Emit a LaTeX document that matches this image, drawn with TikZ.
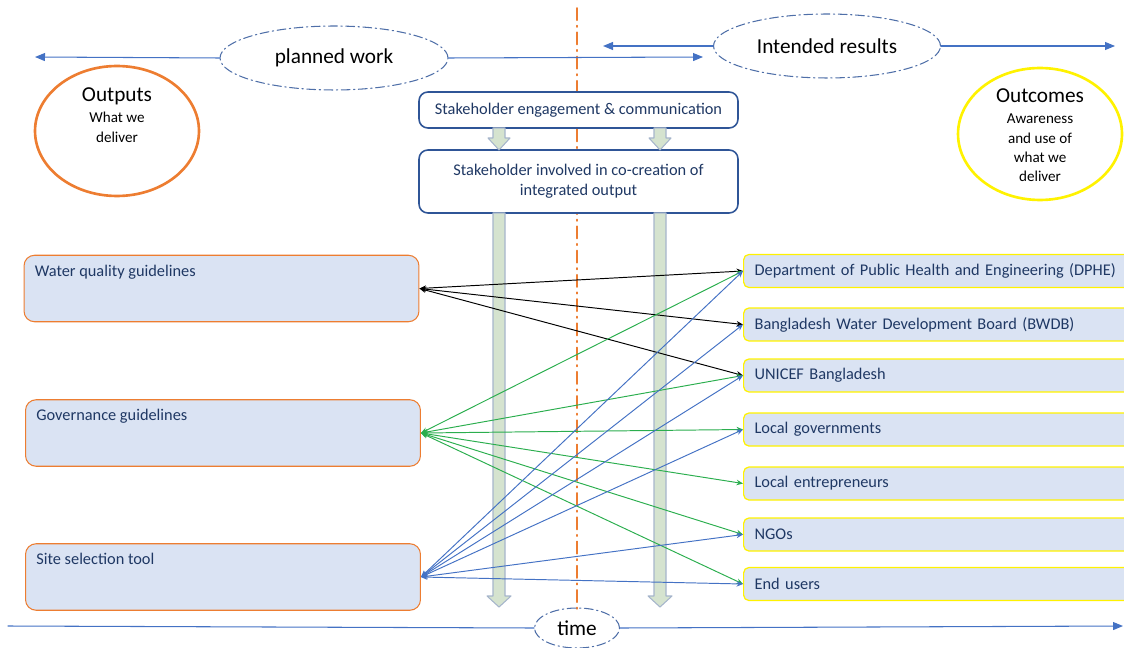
\documentclass[tikz,border=0pt]{standalone}
\usepackage{fontspec}
\setmainfont{Carlito}
\usetikzlibrary{arrows.meta, shapes.geometric, calc}
\definecolor{lineblue}{HTML}{4472C4}
\definecolor{phaseblue}{HTML}{4F6FA8}
\definecolor{navy}{HTML}{1F3864}
\definecolor{stakeblue}{HTML}{2F5597}
\definecolor{outorange}{HTML}{ED7D31}
\definecolor{boxfill}{HTML}{DAE3F3}
\definecolor{linkgreen}{HTML}{2BAE4E}
\definecolor{flowfill}{HTML}{D5E3CF}
\definecolor{flowedge}{HTML}{A6B5CB}
\definecolor{outyellow}{HTML}{FFF200}

\begin{document}
\begin{tikzpicture}[x=0.02cm, y=-0.02cm, line cap=round, line join=round,
	font=\fontsize{9.3}{11}\selectfont,
	phase/.style={ellipse, draw=phaseblue, line width=0.6pt,
		dash pattern=on 5pt off 2pt on 0.8pt off 2pt,
		font=\fontsize{12.1}{14}\selectfont},
	output/.style={draw=outorange, fill=boxfill, line width=0.6pt, rounded corners=6pt,
		minimum width=7.9cm, minimum height=1.33cm},
	outtext/.style={anchor=north west, text=navy, inner sep=0pt, xshift=0.22cm, yshift=-0.2cm},
	outcome/.style={anchor=west, draw=outyellow, fill=boxfill, line width=0.7pt,
		rounded corners=3pt, minimum width=8cm, minimum height=0.66cm,
		text width=7.56cm, inner xsep=0.22cm, align=left, text=navy},
	stake/.style={draw=stakeblue, fill=white, line width=0.9pt, rounded corners=5pt,
		minimum width=6.38cm, align=center, text=navy},
	flow/.style={fill=flowfill, draw=flowedge, line width=0.6pt},
	timeline/.style={lineblue, line width=0.6pt},
	tip/.style={-{Triangle[length=2mm, width=1.6mm]}},
	link/.style={{Stealth[length=1.3mm, width=1.1mm]}-{Stealth[length=1.3mm, width=1.1mm]},
		line width=0.55pt}]
	
	\useasboundingbox (0,0) rectangle (1124,648);
	
	% divider between planned work and intended results
	\draw[outorange, line width=0.9pt, dash pattern=on 7pt off 3pt on 0.8pt off 3pt]
	(577,8) -- (577,612);
	
	%========================
	% Top: phases
	%========================
	\node[phase, minimum width=4.56cm, minimum height=1.28cm] (planned) at (334,58) {planned work};
	\node[phase, minimum width=4.54cm, minimum height=1.28cm] (intended) at (827,46) {Intended results};
	\coordinate (plannedL) at (35,57);
	\coordinate (plannedR) at (703,57);
	\coordinate (intendedL) at (603,46);
	\coordinate (intendedR) at (1115,46);
	\draw[timeline, tip] (planned.west) -- (plannedL);
	\draw[timeline, tip] (planned.east) -- (plannedR);
	\draw[timeline, tip] (intended.west) -- (intendedL);
	\draw[timeline, tip] (intended.east) -- (intendedR);
	
	% outputs / outcomes bubbles
	\node[ellipse, draw=outorange, line width=1.5pt, minimum width=3.28cm, minimum height=2.6cm]
	(outputs) at (117,131) {};
	\node[align=center, font=\fontsize{8.6}{11.3}\selectfont] (outputstxt) at (117,115)
	{{\fontsize{12.1}{14}\selectfont Outputs}\\[1pt] What we\\ deliver};
	\node[ellipse, draw=outyellow, line width=1.5pt, minimum width=3.28cm, minimum height=2.64cm]
	(outcomes) at (1040,134) {};
	\node[align=center, font=\fontsize{8.6}{11}\selectfont] (outcomestxt) at (1040,135.5)
	{{\fontsize{12.1}{14}\selectfont Outcomes}\\[1pt] Awareness\\ and use of\\ what we\\ deliver};
	
	%========================
	% Middle: stakeholder process
	%========================
	\node[stake, minimum height=0.72cm] (engage) at (578.5,110) {Stakeholder engagement \& communication};
	\node[stake, minimum height=1.26cm, font=\fontsize{9.3}{11.6}\selectfont] (cocreate) at (578.5,181.5)
	{Stakeholder involved in co-creation of\\ integrated output};
	\foreach \x in {499,660} {
		\draw[flow] (\x-6,128) -- (\x-6,138) -- (\x-11,138) -- (\x,150)
		-- (\x+11,138) -- (\x+6,138) -- (\x+6,128) -- cycle;
		\draw[flow] (\x-6,213) -- (\x-6,596) -- (\x-12,596) -- (\x,607)
		-- (\x+12,596) -- (\x+6,596) -- (\x+6,213) -- cycle;
	}
	
	%========================
	% Left: outputs
	%========================
	\node[output, label={[name=wqtxt, outtext]north west:Water quality guidelines}]
	(wq) at (221.5,288.5) {};
	\node[output, label={[name=govtxt, outtext]north west:Governance guidelines}]
	(gov) at (223,433) {};
	\node[output, label={[name=sitetxt, outtext]north west:Site selection tool}]
	(site) at (223,577) {};
	
	%========================
	% Right: outcomes per stakeholder
	%========================
	\node[outcome] (dphe) at (743,271) {Department of Public Health and Engineering (DPHE)};
	\node[outcome] (bwdb) at (743,324.5) {Bangladesh Water Development Board (BWDB)};
	\node[outcome] (unicef) at (743,375.5) {UNICEF Bangladesh};
	\node[outcome] (localgov) at (743,429.5) {Local governments};
	\node[outcome] (entrep) at (743,483.5) {Local entrepreneurs};
	\node[outcome] (ngos) at (743,534.5) {NGOs};
	\node[outcome] (users) at (743,584) {End users};
	
	% water quality links
	\draw[link, black] (wq.east) -- (dphe.west);
	\draw[link, black] (wq.east) -- (bwdb.west);
	\draw[link, black] (wq.east) -- (unicef.west);
	
	% governance links
	\draw[link, linkgreen] (gov.east) -- (dphe.west);
	\draw[link, linkgreen] (gov.east) -- (unicef.west);
	\draw[link, linkgreen] (gov.east) -- (localgov.west);
	\draw[link, linkgreen] (gov.east) -- (entrep.west);
	\draw[link, linkgreen] (gov.east) -- (ngos.west);
	\draw[link, linkgreen] (gov.east) -- (users.west);
	
	% site selection links
	\draw[link, lineblue] (site.east) -- (dphe.west);
	\draw[link, lineblue] (site.east) -- (bwdb.west);
	\draw[link, lineblue] (site.east) -- (unicef.west);
	\draw[link, lineblue] (site.east) -- (localgov.west);
	\draw[link, lineblue] (site.east) -- (ngos.west);
	\draw[link, lineblue] (site.east) -- (users.west);
	
	%========================
	% Bottom: time axis
	%========================
	\node[phase, minimum width=1.7cm, minimum height=0.8cm] (time) at (577,628) {time};
	\coordinate (timeL) at (8,626);
	\coordinate (timeR) at (1123,626);
	\draw[timeline] (timeL) -- (time.west);
	\draw[timeline, tip] (time.east) -- (timeR);
	
\end{tikzpicture}
\end{document}
